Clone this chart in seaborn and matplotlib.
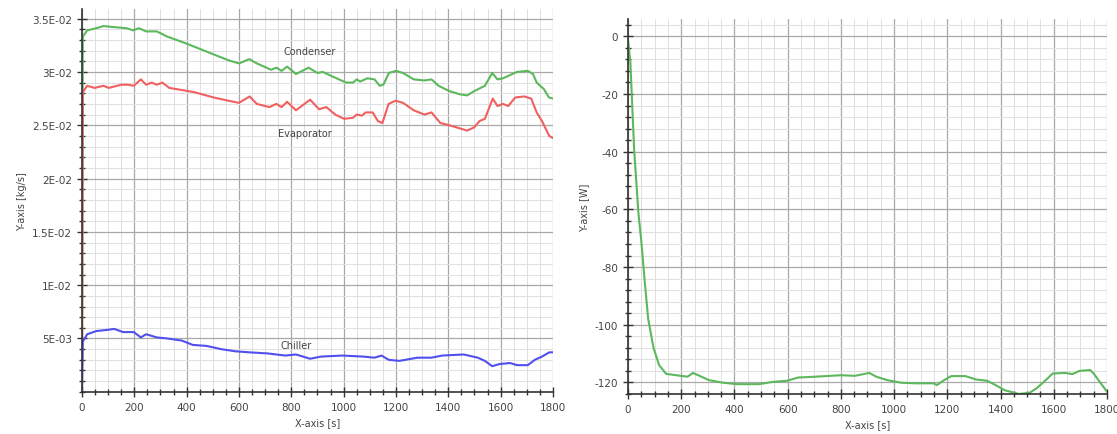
import matplotlib
matplotlib.use("Agg")
import matplotlib.pyplot as plt
from matplotlib.ticker import MultipleLocator
import pandas as pd
import seaborn as sns

# left panel: mass flow [kg/s]
cond_t = [0, 3, 20, 55, 82, 123, 170, 195, 218, 245, 286, 327, 395, 477, 559, 600, 640, 668,
          723, 743, 763, 784, 818, 866, 900, 920, 955, 1009, 1036, 1050, 1063, 1091, 1118,
          1138, 1152, 1173, 1200, 1227, 1268, 1309, 1336, 1363, 1404, 1445, 1472, 1499, 1540,
          1568, 1588, 1609, 1636, 1663, 1704, 1724, 1738, 1765, 1785, 1800]
cond_v = [0, 0.0333, 0.0339, 0.0341, 0.0343, 0.0342, 0.0341, 0.0339, 0.0341, 0.0338, 0.0338,
          0.0333, 0.0327, 0.0319, 0.0311, 0.0308, 0.0312, 0.0308, 0.0302, 0.0304, 0.0301,
          0.0305, 0.0298, 0.0304, 0.0299, 0.0300, 0.0296, 0.0290, 0.0290, 0.0293, 0.0291,
          0.0294, 0.0293, 0.0287, 0.0288, 0.0299, 0.0301, 0.0299, 0.0293, 0.0292, 0.0293,
          0.0287, 0.0282, 0.0279, 0.0278, 0.0282, 0.0287, 0.0299, 0.0293, 0.0294, 0.0297,
          0.0300, 0.0301, 0.0298, 0.0290, 0.0284, 0.0276, 0.0275]

evap_t = [0, 3, 20, 48, 82, 102, 150, 177, 198, 225, 245, 266, 286, 307, 334, 382, 429, 504,
          559, 600, 641, 668, 716, 743, 763, 784, 818, 872, 906, 934, 968, 1002, 1036, 1050,
          1070, 1084, 1111, 1131, 1148, 1172, 1199, 1227, 1268, 1309, 1336, 1370, 1404, 1445,
          1472, 1499, 1520, 1540, 1570, 1588, 1609, 1629, 1656, 1690, 1717, 1738, 1758, 1786, 1800]
evap_v = [0, 0.0281, 0.0287, 0.0285, 0.0287, 0.0285, 0.0288, 0.0288, 0.0287, 0.0293, 0.0288,
          0.0290, 0.0288, 0.0290, 0.0285, 0.0283, 0.0281, 0.0276, 0.0273, 0.0271, 0.0277,
          0.0270, 0.0267, 0.0270, 0.0267, 0.0272, 0.0264, 0.0274, 0.0265, 0.0267, 0.0260,
          0.0256, 0.0257, 0.0260, 0.0259, 0.0262, 0.0262, 0.0254, 0.0252, 0.0270, 0.0273,
          0.0271, 0.0264, 0.0260, 0.0262, 0.0252, 0.0250, 0.0247, 0.0245, 0.0248, 0.0254,
          0.0256, 0.0275, 0.0268, 0.0270, 0.0268, 0.0276, 0.0277, 0.0275, 0.0262, 0.0254,
          0.0240, 0.0238]

chill_t = [0, 3, 20, 55, 95, 123, 157, 198, 225, 245, 286, 327, 382, 423, 477, 532, 586, 641,
           709, 777, 818, 872, 913, 995, 1077, 1118, 1145, 1172, 1213, 1282, 1336, 1377, 1459,
           1513, 1540, 1568, 1595, 1636, 1663, 1704, 1731, 1758, 1786, 1800]
chill_v = [0, 0.0047, 0.0054, 0.0057, 0.0058, 0.0059, 0.0056, 0.0056, 0.0051, 0.0054, 0.0051,
           0.0050, 0.0048, 0.0044, 0.0043, 0.0040, 0.0038, 0.0037, 0.0036, 0.0034, 0.0035,
           0.0031, 0.0033, 0.0034, 0.0033, 0.0032, 0.0034, 0.0030, 0.0029, 0.0032, 0.0032,
           0.0034, 0.0035, 0.0032, 0.0029, 0.0024, 0.0026, 0.0027, 0.0025, 0.0025, 0.0030,
           0.0033, 0.0037, 0.0037]

left_ticks = [0.005, 0.01, 0.015, 0.02, 0.025, 0.03, 0.035]
left_tick_labels = ["5E-03", "1E-02", "1.5E-02", "2E-02", "2.5E-02", "3E-02", "3.5E-02"]

# right panel: power [W]
pow_t = [0, 9, 16, 23, 39, 50, 63, 76, 96, 117, 143, 197, 224, 244, 264, 304, 358, 411, 492,
         545, 599, 639, 706, 800, 853, 907, 933, 974, 1027, 1081, 1148, 1161, 1188, 1215,
         1268, 1309, 1349, 1375, 1416, 1469, 1509, 1536, 1563, 1596, 1643, 1670, 1697, 1737,
         1750, 1777, 1800]
pow_v = [-1, -9, -24, -39, -61, -71, -85, -98, -108, -114, -117, -117.7, -118, -116.7, -117.5,
         -119.2, -120.1, -120.6, -120.6, -119.8, -119.4, -118.3, -118, -117.5, -117.7, -116.7,
         -118, -119.2, -120.1, -120.3, -120.3, -120.9, -119.2, -117.8, -117.8, -119, -119.4,
         -120.6, -122.7, -124, -123.6, -122, -119.8, -116.9, -116.7, -117.1, -116, -115.7,
         -116.9, -120.3, -123.2]

GREEN = "#5cb85c"
RED = "#f06060"
BLUE = "#5050ee"

sns.set_style("white")
plt.rcParams["font.family"] = ["DejaVu Sans"]
plt.rcParams["axes.unicode_minus"] = False

fig = plt.figure(figsize=(11.17, 4.35), dpi=100)
ax1 = fig.add_axes([0.0734, 0.097, 0.4216, 0.880])
ax2 = fig.add_axes([0.5622, 0.092, 0.4288, 0.862])

df_c = pd.DataFrame({"t": cond_t, "v": cond_v})
df_e = pd.DataFrame({"t": evap_t, "v": evap_v})
df_ch = pd.DataFrame({"t": chill_t, "v": chill_v})
df_p = pd.DataFrame({"t": pow_t, "v": pow_v})

sns.lineplot(data=df_c, x="t", y="v", color=GREEN, lw=1.5, estimator=None, ax=ax1)
sns.lineplot(data=df_e, x="t", y="v", color=RED, lw=1.5, estimator=None, ax=ax1)
sns.lineplot(data=df_ch, x="t", y="v", color=BLUE, lw=1.5, estimator=None, ax=ax1)
sns.lineplot(data=df_p, x="t", y="v", color=GREEN, lw=1.5, estimator=None, ax=ax2)

ax1.text(871, 0.0320, "Condenser", fontsize=7, color="#444444", ha="center", va="center")
ax1.text(852, 0.0243, "Evaporator", fontsize=7, color="#444444", ha="center", va="center")
ax1.text(818, 0.0044, "Chiller", fontsize=7, color="#444444", ha="center", va="center")

ax1.set_xlim(0, 1800)
ax1.set_ylim(0, 0.0359)
ax1.set_yticks(left_ticks)
ax1.set_yticklabels(left_tick_labels)
ax1.yaxis.set_minor_locator(MultipleLocator(0.001))
ax1.set_ylabel("Y-axis [kg/s]", fontsize=7, color="#444444")

ax2.set_xlim(0, 1800)
ax2.set_ylim(-124, 6)
ax2.yaxis.set_major_locator(MultipleLocator(20))
ax2.yaxis.set_minor_locator(MultipleLocator(4))
ax2.set_ylabel("Y-axis [W]", fontsize=7, color="#444444")

for ax in (ax1, ax2):
    ax.xaxis.set_major_locator(MultipleLocator(200))
    ax.xaxis.set_minor_locator(MultipleLocator(50))
    ax.set_xlabel("X-axis [s]", fontsize=7, color="#444444")
    ax.grid(which="major", color="#a8a8a8", lw=0.9)
    ax.grid(which="minor", color="#e0e0e0", lw=0.7)
    ax.set_axisbelow(True)
    ax.tick_params(which="both", direction="inout", color="#333333", labelsize=7.5,
                   labelcolor="#444444", bottom=True, left=True)
    ax.tick_params(which="major", length=7, width=1)
    ax.tick_params(which="minor", length=5, width=1)
    for s in ("top", "right"):
        ax.spines[s].set_visible(False)
    for s in ("left", "bottom"):
        ax.spines[s].set_color("#333333")
        ax.spines[s].set_linewidth(1.2)

fig.savefig("out.png", dpi=100)
